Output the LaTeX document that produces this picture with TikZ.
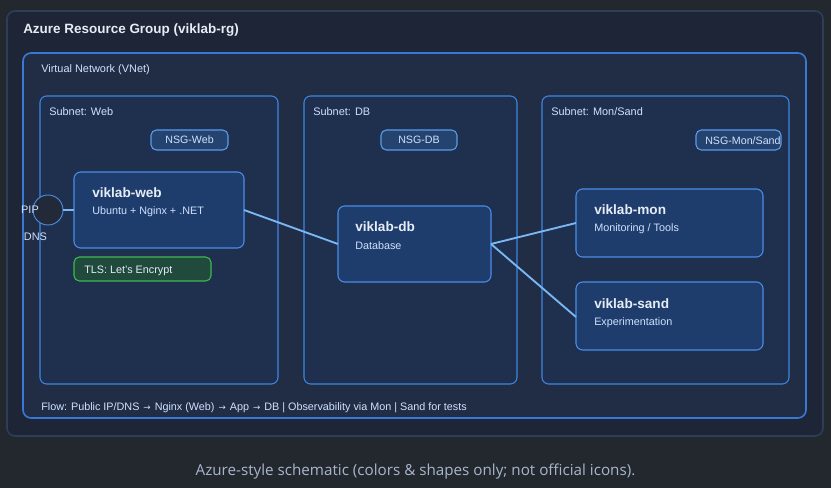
\documentclass[tikz,border=0pt]{standalone}
\usepackage{fontspec}
\setmainfont{Liberation Sans}
\newfontfamily\capfont{Open Sans}
\newfontfamily\arrfont{DejaVu Sans}
\definecolor{pagebg}{HTML}{23282F}
\definecolor{rgfill}{HTML}{1E2536}
\definecolor{rgline}{HTML}{2E3D58}
\definecolor{vnfill}{HTML}{212C45}
\definecolor{vnline}{HTML}{3A78D6}
\definecolor{snfill}{HTML}{1F2F4E}
\definecolor{snline}{HTML}{3F86E2}
\definecolor{vmfill}{HTML}{1E3C6C}
\definecolor{vmline}{HTML}{4A8EE8}
\definecolor{nsgfill}{HTML}{24436F}
\definecolor{nsgline}{HTML}{5B9CEE}
\definecolor{tlsfill}{HTML}{1F4A3C}
\definecolor{tlsline}{HTML}{3FB950}
\definecolor{wire}{HTML}{79B8F5}
\definecolor{txtmain}{HTML}{E6EDF5}
\definecolor{txtblue}{HTML}{CFE2FF}
\definecolor{txtcap}{HTML}{A9B6CA}
\definecolor{pipfill}{HTML}{222A3A}
\tikzset{
  rgbox/.style={draw=rgline, fill=rgfill, line width=1.2pt, rounded corners=6pt},
  vnbox/.style={draw=vnline, fill=vnfill, line width=1.2pt, rounded corners=6pt},
  snbox/.style={draw=snline, fill=snfill, line width=0.8pt, rounded corners=5pt},
  vmbox/.style={draw=vmline, fill=vmfill, line width=0.8pt, rounded corners=5pt},
  nsgbox/.style={draw=nsgline, fill=nsgfill, line width=0.8pt, rounded corners=4pt, minimum height=15pt, inner sep=0pt, text=txtblue, font=\fontsize{8pt}{9pt}\selectfont},
  tlsbox/.style={draw=tlsline, fill=tlsfill, line width=0.8pt, rounded corners=4pt},
  lbl/.style={anchor=base west, inner sep=0pt, text=txtblue, font=\fontsize{8.2pt}{9pt}\selectfont},
  vmtitle/.style={anchor=base west, inner sep=0pt, text=txtmain, font=\fontsize{10.2pt}{12pt}\selectfont\bfseries},
  vmsub/.style={anchor=base west, inner sep=0pt, text=txtblue, font=\fontsize{8.1pt}{9pt}\selectfont},
  wireline/.style={draw=wire, line width=1.4pt},
}
\newcommand{\flowarr}{\hspace*{3pt}{\arrfont\fontsize{6.5pt}{8pt}\selectfont →}\hspace*{3pt}}
\begin{document}
\begin{tikzpicture}[x=0.75pt, y=-0.75pt]
\fill[pagebg] (0,0) rectangle (831,488);
\useasboundingbox (0,0) rectangle (831,488);
% resource group
\draw[rgbox] (7,11) rectangle (823,436);
\node[anchor=base west, inner sep=0pt, text=txtmain, font=\fontsize{10.1pt}{12pt}\selectfont\bfseries] (rgt) at (23,34) {Azure Resource Group (viklab-rg)};
% vnet
\draw[vnbox] (23,53) rectangle (806,418);
\node[lbl] (vnt) at (41,73) {Virtual Network (VNet)};
% subnets
\draw[snbox] (40,96) rectangle (278,384);
\draw[snbox] (304,96) rectangle (517,384);
\draw[snbox] (542,96) rectangle (789,384);
\node[lbl] (snw) at (49,116) {Subnet: Web};
\node[lbl] (snd) at (313,116) {Subnet: DB};
\node[lbl] (snm) at (551,116) {Subnet: Mon/Sand};
% NSGs
\node[nsgbox, minimum width=57.75pt] (nsgw) at (189.5,140) {NSG-Web};
\node[nsgbox, minimum width=57pt] (nsgd) at (419,140) {NSG-DB};
\draw[nsgbox] (696,130) rectangle (781,150);
\node[anchor=west, inner sep=0pt, text=txtblue, font=\fontsize{8pt}{9pt}\selectfont] (nsgm) at (705,140.5) {NSG-Mon/Sand};
% VMs
\draw[vmbox] (74,172) rectangle (244,248);
\coordinate (webW) at (74,210);
\coordinate (webE) at (244,210);
\node[vmtitle] (webt) at (92,198) {viklab-web};
\node[vmsub] (webs) at (92,215) {Ubuntu + Nginx + .NET};
\draw[tlsbox] (74,257) rectangle (211,281);
\node[vmsub, text=txtmain] (tls) at (84,273) {TLS: Let's Encrypt};

\draw[vmbox] (338,206) rectangle (491,282);
\coordinate (dbW) at (338,244);
\coordinate (dbE) at (491,244);
\node[vmtitle] (dbt) at (355,232) {viklab-db};
\node[vmsub] (dbs) at (355,249) {Database};

\draw[vmbox] (576,189) rectangle (763,257);
\coordinate (monW) at (576,223);
\node[vmtitle] (mont) at (594,215) {viklab-mon};
\node[vmsub] (mons) at (594,232) {Monitoring / Tools};

\draw[vmbox] (576,282) rectangle (763,350);
\coordinate (sandW) at (576,317);
\node[vmtitle] (sandt) at (594,308) {viklab-sand};
\node[vmsub] (sands) at (594,325) {Experimentation};

% PIP
\node[circle, draw=vmline, fill=pipfill, line width=0.7pt, minimum size=22.5pt, inner sep=0pt] (pip) at (48,210) {};
\node[lbl, anchor=center, text=txtblue] (piplbl) at (30,209.5) {PIP};
\node[lbl, anchor=center, text=txtblue] (dnslbl) at (35.5,236.5) {DNS};

% wires
\draw[wireline] (pip.east) -- (webW);
\draw[wireline] (webE) -- (dbW);
\draw[wireline] (dbE) -- (monW);
\draw[wireline] (dbE) -- (sandW);

% flow
\node[lbl, text=txtblue, font=\fontsize{8.1pt}{9pt}\selectfont] (flow) at (41,410) {Flow: Public IP/DNS\flowarr Nginx (Web)\flowarr App\flowarr DB | Observability via Mon | Sand for tests};

% caption
\node[anchor=base, inner sep=0pt, text=txtcap, font=\capfont\fontsize{11.4pt}{13pt}\selectfont] (cap) at (415.5,475) {Azure-style schematic (colors \& shapes only; not official icons).};
\end{tikzpicture}
\end{document}
